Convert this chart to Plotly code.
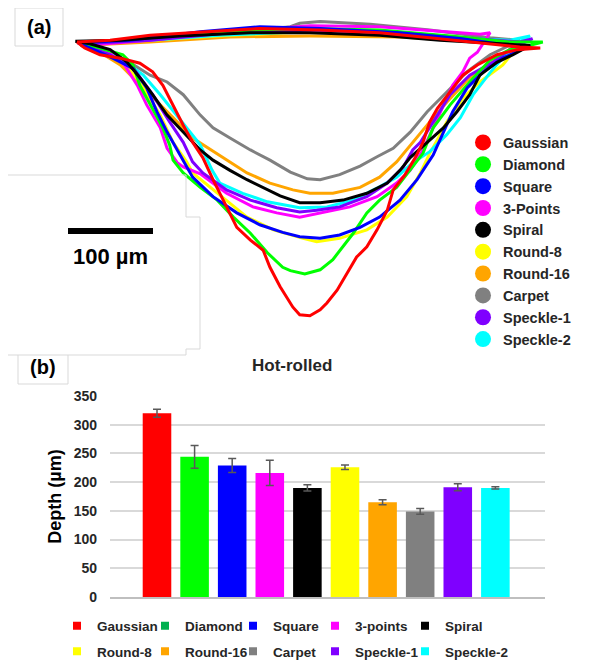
import plotly.graph_objects as go

W, H = 594, 669

# ---------------------------------------------------------------------------
# (a) crater cross-sections, in um: x along the surface, z height
#     (0 = left rim, negative = below the surface)
# ---------------------------------------------------------------------------
gaussian_x = [0, 39, 86, 145, 215, 286, 356, 415, 474, 521, 545, 518, 494, 471, 454, 439, 424,
              415, 407, 398, 386, 372, 365, 353, 341, 329, 318, 306, 294, 286, 274, 262, 254,
              239, 227, 219, 204, 188, 176, 160, 148, 136, 125, 113, 101, 89, 74, 51, 27, 9, 0]
gaussian_z = [0, 2, 8, 12, 16, 14, 11, 5, -1, -6, -7, -9, -15, -27, -39, -59, -78, -94, -118,
              -136, -156, -174, -198, -221, -241, -253, -272, -292, -307, -315, -322, -321, -312,
              -288, -265, -245, -233, -218, -194, -162, -136, -118, -98, -74, -51, -35, -25, -19,
              -15, -7, 0]

diamond_x = [4, 86, 180, 262, 356, 439, 509, 548, 533, 509, 486, 462, 439, 419, 407, 395, 376,
             356, 341, 325, 313, 301, 286, 268, 251, 242, 224, 204, 184, 165, 145, 125, 113,
             109, 101, 89, 74, 66, 54, 27, 4]
diamond_z = [-1, 5, 13, 16, 14, 7, 0, 0, -4, -9, -21, -47, -74, -101, -131, -147, -171, -186,
             -201, -225, -241, -256, -268, -273, -269, -265, -248, -225, -206, -186, -171, -154,
             -139, -121, -101, -78, -51, -27, -15, -7, -1]

square_x = [1, 62, 145, 215, 286, 380, 451, 509, 533, 501, 478, 459, 442, 431, 419, 409, 400,
            380, 356, 333, 309, 286, 262, 242, 215, 188, 160, 136, 121, 106, 94, 82, 66, 42, 15, 1]
square_z = [-1, 2, 12, 18, 16, 11, 4, -4, -4, -19, -35, -54, -82, -106, -133, -148, -162, -186,
            -206, -218, -227, -231, -229, -224, -215, -201, -182, -159, -133, -106, -82, -54,
            -31, -19, -7, -1]

three_points_x = [9, 86, 180, 274, 356, 427, 474, 486, 471, 462, 454, 442, 431, 419, 407, 392,
                  376, 353, 321, 286, 262, 235, 207, 176, 145, 125, 118, 106, 98, 82, 71, 56,
                  33, 9]
three_points_z = [-4, 2, 12, 19, 18, 13, 9, 11, -12, -19, -35, -51, -74, -101, -127, -151, -166,
                  -182, -194, -201, -206, -201, -194, -178, -155, -147, -142, -125, -101, -74,
                  -51, -27, -9, -4]

spiral_x = [-2, 51, 121, 204, 274, 356, 427, 498, 533, 513, 494, 474, 462, 447, 431, 412, 392,
            380, 365, 341, 313, 286, 262, 239, 224, 200, 180, 160, 145, 125, 106, 89, 74, 59,
            39, 15, -2]
spiral_z = [1, 2, 7, 11, 11, 8, 2, -2, -4, -15, -24, -39, -62, -82, -101, -118, -136, -151,
            -166, -178, -186, -189, -189, -181, -174, -162, -151, -139, -127, -106, -86, -62,
            -42, -24, -9, -2, 1]

round8_x = [4, 86, 180, 274, 380, 462, 521, 501, 474, 454, 435, 424, 415, 404, 388, 365, 341,
            309, 282, 266, 231, 200, 165, 136, 129, 113, 98, 74, 51, 21, 4]
round8_z = [-2, 2, 8, 12, 8, 2, -2, -27, -47, -66, -94, -115, -131, -154, -182, -206, -221,
            -231, -235, -231, -221, -206, -178, -154, -141, -118, -86, -47, -21, -7, -2]

round16_x = [4, 86, 180, 274, 380, 462, 521, 501, 462, 435, 415, 395, 376, 356, 333, 301, 274,
             254, 227, 200, 176, 160, 136, 113, 86, 66, 51, 27, 4]
round16_z = [-4, 0, 6, 7, 6, 1, -4, -15, -42, -71, -94, -118, -141, -159, -171, -178, -178,
             -174, -166, -154, -139, -129, -113, -89, -62, -42, -27, -12, -4]

carpet_x = [4, 98, 192, 251, 262, 286, 345, 415, 486, 521, 486, 459, 435, 412, 392, 372, 353,
            333, 309, 286, 271, 251, 227, 204, 180, 160, 145, 125, 106, 86, 62, 42, 15, 4]
carpet_z = [-2, 5, 12, 18, 22, 24, 21, 14, 5, 2, -15, -35, -59, -82, -106, -125, -135, -146,
            -156, -162, -161, -153, -139, -127, -113, -101, -86, -62, -47, -39, -24, -13, -5, -2]

speckle1_x = [4, 86, 180, 274, 380, 462, 521, 536, 509, 489, 462, 439, 424, 404, 395, 384, 365,
              341, 309, 282, 262, 235, 204, 176, 148, 136, 125, 109, 89, 68, 39, 4]
speckle1_z = [-2, 2, 11, 14, 11, 5, 0, 4, -9, -24, -39, -62, -86, -118, -127, -147, -166, -182,
              -194, -198, -200, -195, -186, -174, -154, -141, -118, -94, -62, -33, -15, -2]

speckle2_x = [4, 86, 168, 262, 356, 439, 509, 533, 521, 504, 486, 466, 451, 435, 415, 395, 376,
              353, 325, 294, 262, 224, 195, 168, 159, 145, 129, 113, 98, 78, 51, 21, 4]
speckle2_z = [-2, 2, 8, 12, 9, 5, 2, 7, 0, -15, -36, -62, -89, -109, -129, -142, -159, -172,
              -186, -194, -195, -188, -178, -166, -151, -121, -101, -82, -62, -39, -19, -7, -2]

# ---------------------------------------------------------------------------
# (b) hot-rolled depth, um
# ---------------------------------------------------------------------------
bar_names = ["Gaussian", "Diamond", "Square", "3-points", "Spiral",
             "Round-8", "Round-16", "Carpet", "Speckle-1", "Speckle-2"]
depth_um = [320, 244, 229, 216, 190, 226, 165, 149, 191, 190]
depth_err = [7, 20, 12, 22, 5.5, 4, 4.5, 5, 6, 2]

profile_names = ["Gaussian", "Diamond", "Square", "3-Points", "Spiral",
                 "Round-8", "Round-16", "Carpet", "Speckle-1", "Speckle-2"]
colors = ["#ff0000", "#00ff00", "#0000ff", "#ff00ff", "#000000",
          "#ffff00", "#ffa500", "#808080", "#7f00ff", "#00ffff"]
# the bar legend shows Diamond in a darker green than its bar
bar_legend_colors = ["#ff0000", "#00b050", "#0000ff", "#ff00ff", "#000000",
                     "#ffff00", "#ffa500", "#808080", "#7f00ff", "#00ffff"]

profiles = {
  "Gaussian": (gaussian_x, gaussian_z),
  "Diamond": (diamond_x, diamond_z),
  "Square": (square_x, square_z),
  "3-Points": (three_points_x, three_points_z),
  "Spiral": (spiral_x, spiral_z),
  "Round-8": (round8_x, round8_z),
  "Round-16": (round16_x, round16_z),
  "Carpet": (carpet_x, carpet_z),
  "Speckle-1": (speckle1_x, speckle1_z),
  "Speckle-2": (speckle2_x, speckle2_z),
}
# drawing order, back to front
draw_order = ["Round-16", "Carpet", "Round-8", "Speckle-2", "3-Points",
              "Speckle-1", "Diamond", "Square", "Spiral", "Gaussian"]

SCALE_BAR_UM = 100
PX_PER_UM = 0.85            # scale bar is 85 px long
ORIGIN = (77, 42)           # pixel position of the left rim
PANEL_A_BOTTOM = 340
PAGE_OFF = 8                # the page body margin pushes the figure by 8 px

FONT = "Liberation Sans, Arial, sans-serif"

# page pixel -> paper fraction
def fx(p): return (p - PAGE_OFF) / W
def fy(p): return 1 - (p - PAGE_OFF) / H

fig = go.Figure()

color_of = dict(zip(profile_names, colors))
for name in draw_order:
  xs, zs = profiles[name]
  fig.add_trace(go.Scatter(x=xs, y=zs, mode="lines", showlegend=False,
                           line=dict(color=color_of[name], width=3),
                           xaxis="x", yaxis="y", hoverinfo="skip"))

# legend entries for panel (a): round markers
for name, c in zip(profile_names, colors):
  fig.add_trace(go.Scatter(x=[None], y=[None], mode="markers", name=name,
                           marker=dict(color=c, size=16, symbol="circle"),
                           xaxis="x", yaxis="y", legend="legend2"))

# bars
for name, v, e, c in zip(bar_names, depth_um, depth_err, colors):
  fig.add_trace(go.Bar(x=[name], y=[v], name=name, showlegend=False,
                       marker=dict(color=c, line=dict(width=0)),
                       width=0.76, xaxis="x2", yaxis="y2",
                       error_y=dict(type="data", array=[e], color="#595959",
                                    thickness=1.5, width=4)))

# bar legend: small squares, 5 columns of 2
for i, (name, c) in enumerate(zip(bar_names, bar_legend_colors)):
  fig.add_trace(go.Scatter(x=[None], y=[None], mode="markers", name=name, legendgroup=name,
                           marker=dict(color=c, size=8, symbol="square"),
                           xaxis="x2", yaxis="y2", legend="legend%d" % (3 + i % 5)))

shapes = []
# scale bar
sb_x0 = (68 - ORIGIN[0]) / PX_PER_UM
sb_y = -(231 - ORIGIN[1]) / PX_PER_UM
shapes.append(dict(type="line", xref="x", yref="y", x0=sb_x0, x1=sb_x0 + SCALE_BAR_UM,
                   y0=sb_y, y1=sb_y, line=dict(color="black", width=6)))

# faint frame lines left over from the pasted panels
faint = dict(color="#d9d9d9", width=1)
segs = [((8, 175), (186, 175)), ((186, 175), (186, 217)), ((186, 217), (200, 217)),
        ((200, 217), (200, 349)), ((186, 349), (200, 349)), ((186, 349), (186, 355)),
        ((8, 355), (186, 355)),
        ((15, 8), (63, 8)), ((15, 8), (15, 46)), ((15, 46), (63, 46)), ((63, 8), (63, 46)),
        ((18, 355), (18, 384)), ((68, 355), (68, 384)), ((18, 384), (68, 384))]
for (x0, y0), (x1, y1) in segs:
  shapes.append(dict(type="line", xref="paper", yref="paper", x0=fx(x0), y0=fy(y0),
                     x1=fx(x1), y1=fy(y1), line=faint))

def label(text, x, y, size, color="black"):
  return dict(text=text, x=fx(x), y=fy(y), xref="paper", yref="paper", showarrow=False,
              xanchor="center", yanchor="middle", font=dict(size=size, color=color))

annotations = [
  label("(a)", 39, 27, 20),
  label("(b)", 43, 367, 20),
  label("100 µm", 110, 256, 22),
  label("Hot-rolled", 292, 366, 17, "#262626"),
]

bar_legend = dict(yanchor="middle", y=fy(639), xanchor="left", orientation="v",
                  tracegroupgap=5, font=dict(size=13.5, color="#262626"),
                  bgcolor="rgba(0,0,0,0)")
col_text_x = [95, 183, 271, 353, 443]

fig.update_layout(
  width=W, height=H,
  margin=dict(l=0, r=0, t=0, b=0, autoexpand=False),
  paper_bgcolor="white", plot_bgcolor="rgba(0,0,0,0)",
  font=dict(family=FONT, weight="bold", color="#262626"),
  barmode="overlay",
  xaxis=dict(domain=[0, 1],
             range=[(PAGE_OFF - ORIGIN[0]) / PX_PER_UM, (PAGE_OFF + W - ORIGIN[0]) / PX_PER_UM],
             visible=False, fixedrange=True, automargin=False),
  yaxis=dict(domain=[fy(PANEL_A_BOTTOM), 1],
             range=[-(PANEL_A_BOTTOM - ORIGIN[1]) / PX_PER_UM, (ORIGIN[1] - PAGE_OFF) / PX_PER_UM],
             visible=False, fixedrange=True, automargin=False),
  xaxis2=dict(domain=[fx(110), fx(545)], anchor="y2", type="category",
              range=[-1.25, 10.32], showticklabels=False, showgrid=False,
              showline=True, linecolor="#bfbfbf", linewidth=2, ticks="", automargin=False),
  yaxis2=dict(domain=[fy(597), fy(396)], anchor="x2", range=[0, 350], dtick=50,
              showgrid=True, gridcolor="#d9d9d9", gridwidth=2, zeroline=False,
              ticks="", ticklabelstandoff=12, automargin=False,
              tickfont=dict(size=14, color="#262626"),
              title=dict(text="Depth (µm)", font=dict(size=18, color="black"), standoff=7)),
  legend2=dict(x=fx(463), y=fy(241), xanchor="left", yanchor="middle",
               orientation="v", font=dict(size=14.5, color="#262626"),
               bgcolor="rgba(0,0,0,0)"),
  shapes=shapes,
  annotations=annotations,
)
for k, tx in enumerate(col_text_x):
  fig.update_layout({"legend%d" % (3 + k): dict(bar_legend, x=fx(tx - 38))})

fig.write_html("out.html")
